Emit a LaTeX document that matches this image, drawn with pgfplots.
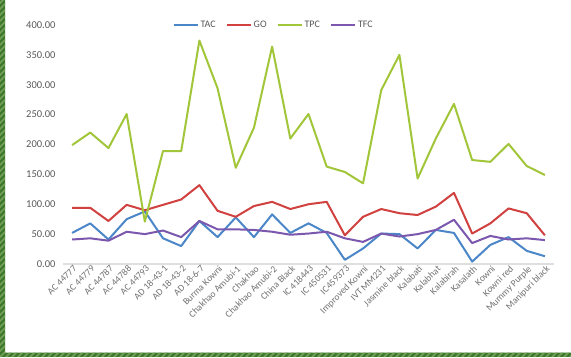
\documentclass[border=0pt]{standalone}
\usepackage{pgfplots}
\pgfplotsset{compat=1.18}
\usepackage{pgfplotstable}
\usepackage{fontspec}
\setmainfont{Carlito}

\definecolor{tac}{HTML}{4A86C8}
\definecolor{go}{HTML}{D0413F}
\definecolor{tpc}{HTML}{A2C63A}
\definecolor{tfc}{HTML}{7B58AE}
\definecolor{txt}{HTML}{595959}
\definecolor{frame}{HTML}{3E7A2E}
\definecolor{stripe}{HTML}{76A05C}

% accession  TAC  GO  TPC  TFC
\pgfplotstableread{
idx TAC GO TPC TFC
0  52 94 199 41
1  68 94 220 43
2  41 72 194 39
3  75 99 251 54
4  88 90  71 50
5  43 99 189 56
6  30 108 189 45
7  72 132 374 72
8  45 89 294 58
9  78 79 161 58
10 45 97 228 57
11 83 104 364 54
12 52 92 210 49
13 68 100 251 51
14 52 104 163 54
15  7 48 154 43
16 26 79 135 37
17 51 92 291 51
18 50 85 350 46
19 26 82 143 50
20 57 96 210 57
21 52 119 268 74
22  4 51 174 35
23 32 68 171 47
24 45 93 201 41
25 22 85 164 43
26 13 48 149 40
}\datatable

\begin{document}
\begin{tikzpicture}
  % canvas and the striped green frame along the left and bottom edges
  \fill[white] (0pt,0pt) rectangle (571pt,357pt);
  \begin{scope}
    \clip (0pt,0pt) rectangle (5pt,357pt) (0pt,0pt) rectangle (571pt,4.5pt);
    \fill[frame] (0pt,0pt) rectangle (571pt,357pt);
    \foreach \k in {-360,-354,...,580}
      \draw[stripe, line width=1.6pt] (\k pt,0pt) -- ++(360pt,360pt);
  \end{scope}
  \clip (0pt,0pt) rectangle (571pt,357pt);

  \begin{axis}[
    at={(63pt,93pt)}, anchor=south west,
    scale only axis, width=491pt, height=239pt,
    xmin=-0.5, xmax=26.5, ymin=0, ymax=400,
    axis x line*=bottom, axis y line*=left,
    x axis line style={draw=gray!25, line width=1.2pt, -},
    y axis line style={draw=none},
    major tick length=0pt,
    xtick=data,
    xticklabels={AC 44777, AC 44779, AC 44787, AC 44788, AC 44793,
      AD 18-43-1, AD 18-43-2, AD 18-6-7, Burma Kowni, Chakhao Amubi-1,
      Chakhao, Chakhao Amubi-2, China Black, IC 418443, IC 450531,
      IC459373, Improved Kowni, IVT MM231, Jasmine black, Kalabati,
      Kalabhat, Kalabirah, Kasalath, Kowni, Kowni red, Mummy Purple,
      Manipuri black},
    xticklabel style={rotate=45, anchor=north east, font=\fontsize{9.5}{11}\selectfont,
      text=txt!85, inner sep=1pt, xshift=1pt},
    ytick={0,50,...,400},
    yticklabel style={font=\fontsize{10.5}{12}\selectfont, text=txt, xshift=-4pt,
      /pgf/number format/fixed, /pgf/number format/fixed zerofill,
      /pgf/number format/precision=2, /pgf/number format/assume math mode=true},
    every axis plot/.append style={line width=2pt, line join=round, no markers},
    legend columns=4,
    legend style={draw=none, fill=none, at={(0.429,1.0)}, anchor=center,
      font=\fontsize{10}{11}\selectfont, text=txt,
      /tikz/every even column/.append style={column sep=8pt}},
    legend image code/.code={\draw[#1] (0pt,0pt) -- (24pt,0pt);},
    clip=false,
  ]
    \addplot[tac] table[x=idx, y=TAC] {\datatable};
    \addlegendentry{TAC}
    \addplot[go] table[x=idx, y=GO] {\datatable};
    \addlegendentry{GO}
    \addplot[tpc] table[x=idx, y=TPC] {\datatable};
    \addlegendentry{TPC}
    \addplot[tfc] table[x=idx, y=TFC] {\datatable};
    \addlegendentry{TFC}
  \end{axis}
\end{tikzpicture}
\end{document}
